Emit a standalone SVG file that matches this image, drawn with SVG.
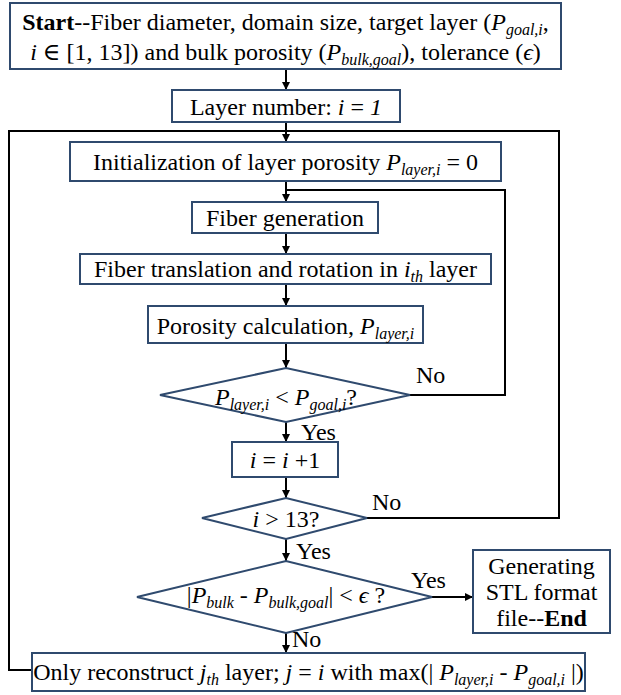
<svg xmlns="http://www.w3.org/2000/svg" width="621" height="695" viewBox="0 0 621 695">
<style>
.box{fill:#fff;stroke:#2F4A6E;stroke-width:2}
.ln{fill:none;stroke:#000;stroke-width:2}
text{font-family:"Liberation Serif","Times New Roman","DejaVu Serif",serif;font-size:24px;fill:#000}
.t{text-anchor:middle}
.i{font-style:italic}
.s{font-size:16px;font-style:italic}
.b{font-weight:bold}
</style>
<defs>
<marker id="ah" viewBox="0 0 10 10" refX="10" refY="5" markerWidth="9" markerHeight="8" markerUnits="userSpaceOnUse" orient="auto">
<path d="M0,0 L10,5 L0,10 z" fill="#000"/>
</marker>
</defs>
<g id="connectors">
<path class="ln" d="M286,69 V90" marker-end="url(#ah)"/>
<path class="ln" d="M286,122 V142" marker-end="url(#ah)"/>
<path class="ln" d="M32,670 H9 V131 H286"/>
<path class="ln" d="M367,518 H559 V131 H286"/>
<path class="ln" d="M286,181 V202" marker-end="url(#ah)"/>
<path class="ln" d="M410,395 H505 V190 H286"/>
<path class="ln" d="M286,233 V254" marker-end="url(#ah)"/>
<path class="ln" d="M286,284 V306" marker-end="url(#ah)"/>
<path class="ln" d="M286,343 V368" marker-end="url(#ah)"/>
<path class="ln" d="M286,422 V442" marker-end="url(#ah)"/>
<path class="ln" d="M286,477 V498" marker-end="url(#ah)"/>
<path class="ln" d="M286,539 V561" marker-end="url(#ah)"/>
<path class="ln" d="M432,597 H473" marker-end="url(#ah)"/>
<path class="ln" d="M286,633 V653" marker-end="url(#ah)"/>
<text x="416" y="383">No</text>
<text x="301" y="440">Yes</text>
<text x="372" y="510">No</text>
<text x="296" y="559">Yes</text>
<text x="411" y="588">Yes</text>
<text x="292" y="647">No</text>
</g>
<g id="start">
<rect class="box" x="10" y="3" width="551" height="66"/>
<text class="t" x="285.5" y="30"><tspan class="b">Start</tspan>--Fiber diameter, domain size, target layer (<tspan class="i">P</tspan><tspan class="s" dy="5">goal,i</tspan><tspan dy="-5">,</tspan></text>
<text class="t" x="285.5" y="60"><tspan class="i">i</tspan> ∈ [1, 13]) and bulk porosity (<tspan class="i">P</tspan><tspan class="s" dy="5">bulk,goal</tspan><tspan dy="-5">), tolerance (</tspan><tspan class="i">ϵ</tspan>)</text>
</g>
<g id="layer-number">
<rect class="box" x="172" y="90" width="228" height="32"/>
<text class="t" x="286" y="115">Layer number: <tspan class="i">i</tspan> = <tspan class="i">1</tspan></text>
</g>
<g id="init">
<rect class="box" x="70" y="142" width="431" height="39"/>
<text class="t" x="285.5" y="170">Initialization of layer porosity <tspan class="i">P</tspan><tspan class="s" dy="5">layer,i</tspan><tspan dy="-5"> = 0</tspan></text>
</g>
<g id="fiber-gen">
<rect class="box" x="192" y="202" width="186" height="31"/>
<text class="t" x="285" y="226">Fiber generation</text>
</g>
<g id="translation">
<rect class="box" x="80" y="254" width="411" height="30"/>
<text class="t" x="285.5" y="277">Fiber translation and rotation in <tspan class="i">i</tspan><tspan class="s" dy="5">th</tspan><tspan dy="-5"> layer</tspan></text>
</g>
<g id="porosity">
<rect class="box" x="148" y="306" width="275" height="37"/>
<text class="t" x="285.5" y="334">Porosity calculation, <tspan class="i">P</tspan><tspan class="s" dy="5">layer,i</tspan></text>
</g>
<g id="check-layer">
<polygon class="box" points="160,395 286,368 410,395 286,422"/>
<text class="t" x="286" y="405"><tspan class="i">P</tspan><tspan class="s" dy="5">layer,i</tspan><tspan dy="-5"> &lt; </tspan><tspan class="i">P</tspan><tspan class="s" dy="5">goal,i</tspan><tspan dy="-5">?</tspan></text>
</g>
<g id="increment">
<rect class="box" x="232" y="442" width="106" height="35"/>
<text class="t" x="285" y="468"><tspan class="i">i</tspan> = <tspan class="i">i</tspan> +1</text>
</g>
<g id="check-count">
<polygon class="box" points="202,518 286,498 367,518 286,539"/>
<text class="t" x="286" y="527"><tspan class="i">i</tspan> &gt; 13?</text>
</g>
<g id="check-bulk">
<polygon class="box" points="137,597 286,561 432,597 286,633"/>
<text class="t" x="286" y="603">|<tspan class="i">P</tspan><tspan class="s" dy="5">bulk</tspan><tspan dy="-5"> - </tspan><tspan class="i">P</tspan><tspan class="s" dy="5">bulk,goal</tspan><tspan dy="-5">| &lt; </tspan><tspan class="i">ϵ</tspan> ?</text>
</g>
<g id="end">
<rect class="box" x="473" y="550" width="137" height="83"/>
<text class="t" x="541.5" y="574">Generating</text>
<text class="t" x="541.5" y="600">STL format</text>
<text class="t" x="541.5" y="626">file--<tspan class="b">End</tspan></text>
</g>
<g id="reconstruct">
<rect class="box" x="32" y="653" width="553" height="38"/>
<text class="t" x="308.5" y="680">Only reconstruct <tspan class="i">j</tspan><tspan class="s" dy="5">th</tspan><tspan dy="-5"> layer; </tspan><tspan class="i">j</tspan> = <tspan class="i">i</tspan> with max(| <tspan class="i">P</tspan><tspan class="s" dy="5">layer,i</tspan><tspan dy="-5"> - </tspan><tspan class="i">P</tspan><tspan class="s" dy="5">goal,i</tspan><tspan dy="-5"> |)</tspan></text>
</g>
</svg>
